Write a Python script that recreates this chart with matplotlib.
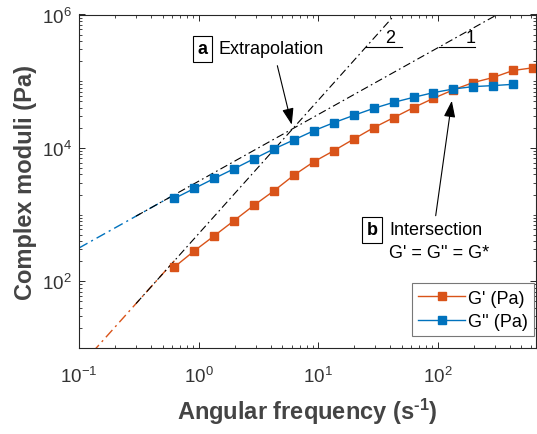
import numpy as np
import matplotlib
matplotlib.use('Agg')
import matplotlib.pyplot as plt
from matplotlib.ticker import LogLocator, NullFormatter

# --- dữ liệu ---
omega = [0.6283, 0.9222, 1.3537, 1.9869, 2.9164, 4.2807, 6.2832, 9.2223,
         13.537, 19.869, 29.164, 42.807, 62.832, 92.223, 135.37, 198.69,
         291.64, 428.07, 628.32]
g_storage = [164, 286, 481, 815, 1384, 2277, 3905, 6207, 9078, 13550, 20090,
             28380, 40150, 55340, 74270, 95500, 113700, 144800, 158900]
g_loss = [1746, 2466, 3484, 4875, 6887, 9660, 13190, 18130, 23880, 30740,
          39170, 48170, 57290, 67400, 76380, 82990, 85920, 89800]

# hệ số ngoại suy (G' ~ A w^2, G'' ~ B w)
A_slope2 = 515.0
B_slope1 = 3160.0

C_ORANGE = '#D95319'
C_BLUE = '#0072BD'
C_AX = '#262626'
C_TXT = '#333333'

plt.rcParams['font.family'] = ['Liberation Sans', 'DejaVu Sans']
plt.rcParams['mathtext.fontset'] = 'custom'
plt.rcParams['mathtext.rm'] = 'Liberation Sans'
plt.rcParams['mathtext.bf'] = 'Liberation Sans:bold'
plt.rcParams['mathtext.default'] = 'regular'

fig = plt.figure(figsize=(5.37, 4.35), dpi=100)
ax = fig.add_axes([79 / 537, 1 - 349 / 435, 457 / 537, 333.5 / 435])

dash_dot = (0, (7, 3, 1.5, 3))

# đường ngoại suy màu (trước điểm đầu tiên)
w_col = np.array([0.1, omega[0]])
ax.plot(w_col, B_slope1 * w_col, color=C_BLUE, lw=1.0, ls=dash_dot)
ax.plot(w_col, A_slope2 * w_col ** 2, color=C_ORANGE, lw=1.0, ls=dash_dot)

# đường ngoại suy đen
w_blk = np.array([0.3, 2000])
ax.plot(w_blk, B_slope1 * w_blk, color='k', lw=0.8, ls=dash_dot)
ax.plot(w_blk, A_slope2 * w_blk ** 2, color='k', lw=0.8, ls=dash_dot)

# dữ liệu
ax.plot(omega, g_storage, '-s', color=C_ORANGE, lw=1.0, ms=6,
        mec=C_ORANGE, mfc=C_ORANGE, label="G' (Pa)")
ax.plot(omega[:len(g_loss)], g_loss, '-s', color=C_BLUE, lw=1.0, ms=6,
        mec=C_BLUE, mfc=C_BLUE, label="G'' (Pa)")

ax.set_xscale('log')
ax.set_yscale('log')
ax.set_xlim(0.1, 665)
ax.set_ylim(10, 1e6)
ax.set_xticks([0.1, 1, 10, 100])
ax.set_yticks([1e2, 1e4, 1e6])
ax.xaxis.set_minor_locator(LogLocator(base=10, subs=np.arange(2, 10), numticks=20))
ax.yaxis.set_minor_locator(LogLocator(base=10, subs=np.arange(1, 10), numticks=20))
ax.xaxis.set_minor_formatter(NullFormatter())
ax.yaxis.set_minor_formatter(NullFormatter())

ax.tick_params(which='both', direction='in', top=True, right=True,
               color=C_AX, labelcolor=C_TXT, labelsize=13.5)
ax.tick_params(which='major', length=4, width=0.7)
ax.tick_params(which='minor', length=2.5, width=0.6)
ax.tick_params(axis='x', which='major', pad=13)
ax.tick_params(axis='y', which='major', pad=5)
for s in ax.spines.values():
    s.set_color(C_AX)
    s.set_linewidth(0.8)

ax.set_xlabel('Angular frequency (s$^{\\mathbf{\u2010 1}}$)'.replace(' 1', '1'),
              fontsize=17, fontweight='bold', color='#444444', labelpad=7)
ax.set_ylabel('Complex moduli (Pa)', fontsize=17, fontweight='bold',
              color='#444444', labelpad=4)

# tam giác độ dốc
g_mark = 3.229e5
w2 = np.sqrt(g_mark / A_slope2)
w1 = g_mark / B_slope1
for w0, lab, fx in [(w2, '2', 1.6), (w1, '1', 1.85)]:
    ax.plot([w0, 2 * w0], [g_mark, g_mark], color='k', lw=0.8)
    ax.text(fx * w0, g_mark * 1.06, lab, ha='center', va='bottom',
            fontsize=13, color='k')

# chú thích a
box = dict(boxstyle='square,pad=0.25', fc='white', ec='k', lw=0.8)
ax.text(0.2696, 0.898, 'a', transform=ax.transAxes, ha='center', va='center',
        fontsize=13, fontweight='bold', bbox=box)
ax.text(0.3063, 0.898, 'Extrapolation', transform=ax.transAxes, ha='left',
        va='center', fontsize=13)
w_cross = B_slope1 / A_slope2
ax.annotate('', xy=(w_cross, B_slope1 * w_cross), xycoords='data',
            xytext=(0.434, 0.8465), textcoords='axes fraction',
            arrowprops=dict(arrowstyle='-|>,head_length=1.0,head_width=0.35',
                            color='k', lw=0.8, shrinkA=0, shrinkB=3))

# chú thích b
ax.text(0.6415, 0.3544, 'b', transform=ax.transAxes, ha='center', va='center',
        fontsize=13, fontweight='bold', bbox=box)
ax.text(0.679, 0.3547, 'Intersection', transform=ax.transAxes, ha='left',
        va='center', fontsize=13)
ax.text(0.678, 0.287, "G' = G'' = G*", transform=ax.transAxes, ha='left',
        va='center', fontsize=13)
ax.annotate('', xy=(omega[14], g_storage[14]), xycoords='data',
            xytext=(0.7805, 0.3967), textcoords='axes fraction',
            arrowprops=dict(arrowstyle='-|>,head_length=1.0,head_width=0.35',
                            color='k', lw=0.8, shrinkA=0, shrinkB=8))

leg = ax.legend(loc='lower right', bbox_to_anchor=(0.996, 0.035),
                borderaxespad=0, fontsize=13, handlelength=2.6,
                handletextpad=0.15, labelspacing=0.35, borderpad=0.35,
                fancybox=False, framealpha=1)
leg.get_frame().set_edgecolor('#777777')
leg.get_frame().set_linewidth(0.8)

fig.savefig('out.png', dpi=100)
